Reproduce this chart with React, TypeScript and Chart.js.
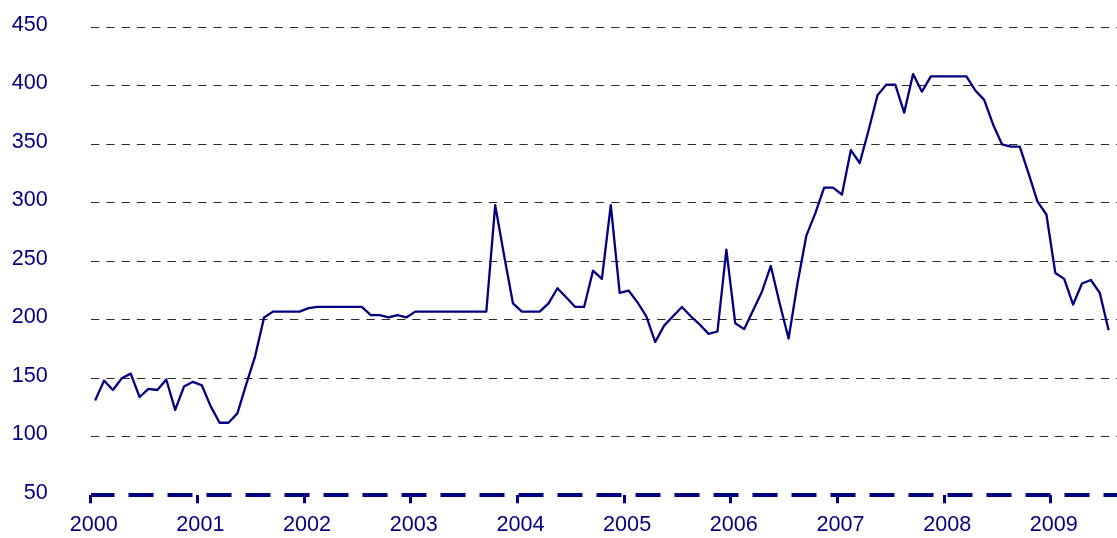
import React, { useEffect, useRef } from "react";
import { Chart, registerables } from "chart.js";

Chart.register(...registerables);

// Monthly series starting January 2000 (plotted at mid-month)
const startYear = 2000;
const values: number[] = [
  // 2000
  131, 148, 140, 150, 154, 134, 141, 140, 149, 123, 143, 147,
  // 2001
  144, 126, 112, 112, 120, 145, 169, 202, 207, 207, 207, 207,
  // 2002
  210, 211, 211, 211, 211, 211, 211, 204, 204, 202, 204, 202,
  // 2003
  207, 207, 207, 207, 207, 207, 207, 207, 207, 298, 255, 214,
  // 2004
  207, 207, 207, 214, 227, 219, 211, 211, 242, 235, 298, 223,
  // 2005
  225, 215, 203, 181, 195, 203, 211, 203, 196, 188, 190, 260,
  // 2006
  197, 192, 208, 224, 246, 214, 184, 231, 272, 291, 313, 313,
  // 2007
  307, 345, 334, 362, 392, 401, 401, 377, 410, 395, 408, 408,
  // 2008
  408, 408, 408, 396, 388, 367, 350, 348, 348, 325, 301, 290,
  // 2009
  240, 235, 213, 231, 234, 223, 191,
];

const yMin = 50;
const yMax = 450;
const yStep = 50;
const xMin = 2000;
const xMax = 2009.62;

const NAVY = "#000080";
const FONT = { family: '"Liberation Sans", Arial, sans-serif', size: 21.6 };

export default function App() {
  const ref = useRef<HTMLCanvasElement>(null);

  useEffect(() => {
    document.body.style.margin = "0";
    const points = values.map((v, i) => ({ x: startYear + (i + 0.5) / 12, y: v }));
    const chart = new Chart(ref.current!, {
      type: "line",
      data: {
        datasets: [
          {
            data: points,
            borderColor: NAVY,
            borderWidth: 2.3,
            borderJoinStyle: "round",
            pointRadius: 0,
            tension: 0,
            fill: false,
          },
        ],
      },
      options: {
        animation: false,
        responsive: false,
        devicePixelRatio: 1,
        layout: { autoPadding: false, padding: { top: 27.3, left: 0, right: 0, bottom: 0 } },
        plugins: { legend: { display: false }, tooltip: { enabled: false } },
        scales: {
          x: {
            type: "linear",
            min: xMin,
            max: xMax,
            grid: {
              drawOnChartArea: false,
              drawTicks: true,
              tickLength: 8,
              tickWidth: 3,
              tickColor: NAVY,
              color: NAVY,
            },
            border: { display: false },
            ticks: {
              stepSize: 1,
              includeBounds: false,
              autoSkip: false,
              maxRotation: 0,
              padding: 9,
              labelOffset: 3,
              color: NAVY,
              font: FONT,
              callback: (v: any) => String(v),
            },
            afterFit: (s: any) => {
              s.height = 42.7;
              s.paddingLeft = 0;
              s.paddingRight = 0;
            },
          },
          y: {
            min: yMin,
            max: yMax,
            grid: {
              drawTicks: false,
              color: (c: any) => (c.tick?.value === yMin ? NAVY : "#2a2a2a"),
              lineWidth: (c: any) => (c.tick?.value === yMin ? 4 : 1),
            },
            border: {
              display: false,
              dash: (c: any) => (c.tick?.value === yMin ? [25, 14] : [8.3, 7]),
              dashOffset: (c: any) => (c.tick?.value === yMin ? 1.5 : 0),
            },
            ticks: {
              stepSize: yStep,
              padding: 43,
              labelOffset: -2.5,
              color: NAVY,
              font: FONT,
            },
            afterFit: (s: any) => {
              s.width = 90.7;
              s.paddingTop = 0;
              s.paddingBottom = 0;
            },
          },
        },
      } as any,
    });
    return () => chart.destroy();
  }, []);

  return (
    <div style={{ width: 1117, height: 538 }}>
      <canvas ref={ref} width={1117} height={538} style={{ display: "block" }} />
    </div>
  );
}
